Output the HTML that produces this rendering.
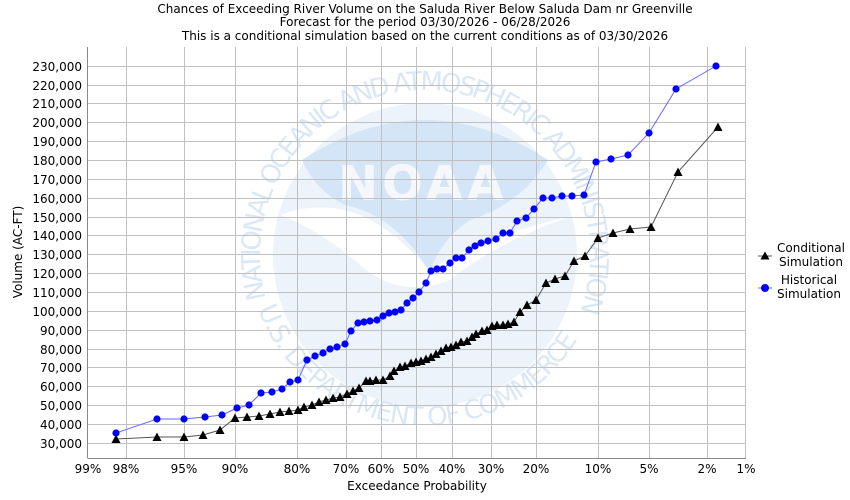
<!DOCTYPE html>
<html><head><meta charset="utf-8"><style>
body{margin:0;background:#fff}
svg{display:block;font-family:"DejaVu Sans","Liberation Sans",sans-serif}
</style></head><body>
<svg width="850" height="500" viewBox="0 0 850 500" xmlns="http://www.w3.org/2000/svg">
<defs>
<marker id="tri" viewBox="-5 -5 10 10" markerWidth="10" markerHeight="10" markerUnits="userSpaceOnUse" refX="0" refY="0"><polygon points="0,-4.5 4.5,4 -4.5,4" fill="#000"/></marker>
<marker id="dot" viewBox="-5 -5 10 10" markerWidth="9" markerHeight="9" markerUnits="userSpaceOnUse" refX="0" refY="0"><circle r="4" fill="#0000ff"/></marker>
<path id="ring" d="M 425 420 A 165 165 0 1 1 425.1 420"/>
<path id="bot" d="M 250 280 A 178 178 0 0 0 600 280"/>
</defs>
<g font-size="12" text-anchor="middle" fill="#000">
<text x="425" y="13">Chances of Exceeding River Volume on the Saluda River Below Saluda Dam nr Greenville</text>
<text x="425" y="26">Forecast for the period 03/30/2026 - 06/28/2026</text>
<text x="425" y="40">This is a conditional simulation based on the current conditions as of 03/30/2026</text>
</g>
<!-- watermark -->
<g opacity="0.9">
<circle cx="425" cy="255" r="152" fill="#eaf2fb"/>
<path d="M 302 160 Q 425 80 548 160 Q 520 205 470 220 Q 440 240 430 272 Q 395 215 345 205 Q 315 190 302 160 Z" fill="#cfe3f7"/>
<path d="M 280 215 Q 360 185 430 272 Q 470 240 575 215 Q 500 240 450 280 Q 400 300 360 265 Q 320 230 280 215Z" fill="#fff"/>
<text x="423" y="200" font-size="48" font-weight="bold" fill="#f5f7fa" text-anchor="middle" letter-spacing="4">NOAA</text>
<text font-size="26" fill="#d7e6f6"><textPath href="#ring" startOffset="215" textLength="620" lengthAdjust="spacing">NATIONAL OCEANIC AND ATMOSPHERIC ADMINISTRATION</textPath></text>
<text font-size="26" fill="#d7e6f6"><textPath href="#bot" startOffset="30" textLength="400" lengthAdjust="spacing">U.S. DEPARTMENT OF COMMERCE</textPath></text>
</g>
<!-- grid -->
<g stroke="#c0c0c0" stroke-width="1">
<line x1="126.5" y1="47" x2="126.5" y2="458"/><line x1="184.5" y1="47" x2="184.5" y2="458"/><line x1="235.5" y1="47" x2="235.5" y2="458"/><line x1="297.5" y1="47" x2="297.5" y2="458"/><line x1="346.5" y1="47" x2="346.5" y2="458"/><line x1="381.5" y1="47" x2="381.5" y2="458"/><line x1="416.5" y1="47" x2="416.5" y2="458"/><line x1="452.5" y1="47" x2="452.5" y2="458"/><line x1="491.5" y1="47" x2="491.5" y2="458"/><line x1="536.5" y1="47" x2="536.5" y2="458"/><line x1="598.5" y1="47" x2="598.5" y2="458"/><line x1="649.5" y1="47" x2="649.5" y2="458"/><line x1="707.5" y1="47" x2="707.5" y2="458"/><line x1="745.5" y1="47" x2="745.5" y2="458"/>
<line x1="88" y1="66.5" x2="746" y2="66.5"/><line x1="88" y1="85.5" x2="746" y2="85.5"/><line x1="88" y1="103.5" x2="746" y2="103.5"/><line x1="88" y1="122.5" x2="746" y2="122.5"/><line x1="88" y1="141.5" x2="746" y2="141.5"/><line x1="88" y1="160.5" x2="746" y2="160.5"/><line x1="88" y1="179.5" x2="746" y2="179.5"/><line x1="88" y1="198.5" x2="746" y2="198.5"/><line x1="88" y1="217.5" x2="746" y2="217.5"/><line x1="88" y1="235.5" x2="746" y2="235.5"/><line x1="88" y1="254.5" x2="746" y2="254.5"/><line x1="88" y1="273.5" x2="746" y2="273.5"/><line x1="88" y1="292.5" x2="746" y2="292.5"/><line x1="88" y1="311.5" x2="746" y2="311.5"/><line x1="88" y1="330.5" x2="746" y2="330.5"/><line x1="88" y1="349.5" x2="746" y2="349.5"/><line x1="88" y1="367.5" x2="746" y2="367.5"/><line x1="88" y1="386.5" x2="746" y2="386.5"/><line x1="88" y1="405.5" x2="746" y2="405.5"/><line x1="88" y1="424.5" x2="746" y2="424.5"/><line x1="88" y1="443.5" x2="746" y2="443.5"/>
</g>
<g stroke="#888" stroke-width="1">
<line x1="87.5" y1="47" x2="87.5" y2="458"/><line x1="87.5" y1="458.5" x2="746" y2="458.5"/>
</g>
<g font-size="12" text-anchor="end" fill="#000">
<text x="82" y="71">230,000</text><text x="82" y="90">220,000</text><text x="82" y="108">210,000</text><text x="82" y="127">200,000</text><text x="82" y="146">190,000</text><text x="82" y="165">180,000</text><text x="82" y="184">170,000</text><text x="82" y="203">160,000</text><text x="82" y="222">150,000</text><text x="82" y="240">140,000</text><text x="82" y="259">130,000</text><text x="82" y="278">120,000</text><text x="82" y="297">110,000</text><text x="82" y="316">100,000</text><text x="82" y="335">90,000</text><text x="82" y="354">80,000</text><text x="82" y="372">70,000</text><text x="82" y="391">60,000</text><text x="82" y="410">50,000</text><text x="82" y="429">40,000</text><text x="82" y="448">30,000</text>
</g>
<g font-size="12" text-anchor="middle" fill="#000">
<text x="88" y="473">99%</text><text x="126" y="473">98%</text><text x="184" y="473">95%</text><text x="235" y="473">90%</text><text x="297" y="473">80%</text><text x="346" y="473">70%</text><text x="381" y="473">60%</text><text x="416" y="473">50%</text><text x="452" y="473">40%</text><text x="491" y="473">30%</text><text x="536" y="473">20%</text><text x="598" y="473">10%</text><text x="649" y="473">5%</text><text x="707" y="473">2%</text><text x="746" y="473">1%</text>
<text x="417" y="490">Exceedance Probability</text>
<text transform="translate(22,252) rotate(-90)">Volume (AC-FT)</text>
</g>
<polyline fill="none" stroke="#555" stroke-width="1" marker-start="url(#tri)" marker-mid="url(#tri)" marker-end="url(#tri)" points="116,439 157,437 184,437 203,435 220,430 235,418 247,417 259,416 270,414 280,412 289,411 298,410 304,407 312,405 319,402 326,400 333,398 340,397 347,394 353,391 359,388 366,381 370,381 376,380 383,380 390,376 394,371 400,367 405,366 411,363 416,362 421,361 426,359 431,357 436,354 441,351 446,348 451,347 456,345 461,342 467,341 472,337 476,334 482,331 487,330 492,326 497,325 503,325 508,324 514,322 520,312 527,305 536,300 546,283 555,279 565,276 574,261 585,256 598,238 613,233 630,229 651,227 678,172 718,127"/>
<polyline fill="none" stroke="#6666ff" stroke-width="1" marker-start="url(#dot)" marker-mid="url(#dot)" marker-end="url(#dot)" points="116,433 157,419 184,419 205,417 222,415 237,408 249,405 261,393 272,392 282,389 290,382 298,380 307,360 315,356 323,353 330,349 337,347 345,344 351,331 358,323 364,322 370,321 377,320 383,316 389,313 395,312 401,310 407,303 413,298 419,292 426,283 431,271 437,269 443,269 450,263 456,258 462,258 469,250 475,246 481,243 488,241 496,239 503,233 510,233 517,221 526,218 534,209 543,198 552,198 562,196 572,196 584,195 596,162 611,159 628,155 649,133 676,89 716,66"/>
<!-- legend -->
<line x1="758" y1="256" x2="772" y2="256" stroke="#555"/><polygon points="765,251.5 769.5,259.5 760.5,259.5" fill="#000"/>
<line x1="758" y1="288" x2="772" y2="288" stroke="#6666ff"/><circle cx="765" cy="288" r="4" fill="#0000ff"/>
<g font-size="12" text-anchor="middle" fill="#000">
<text x="811" y="252">Conditional</text><text x="811" y="266">Simulation</text>
<text x="809" y="284">Historical</text><text x="809" y="298">Simulation</text>
</g>
</svg>
</body></html>
